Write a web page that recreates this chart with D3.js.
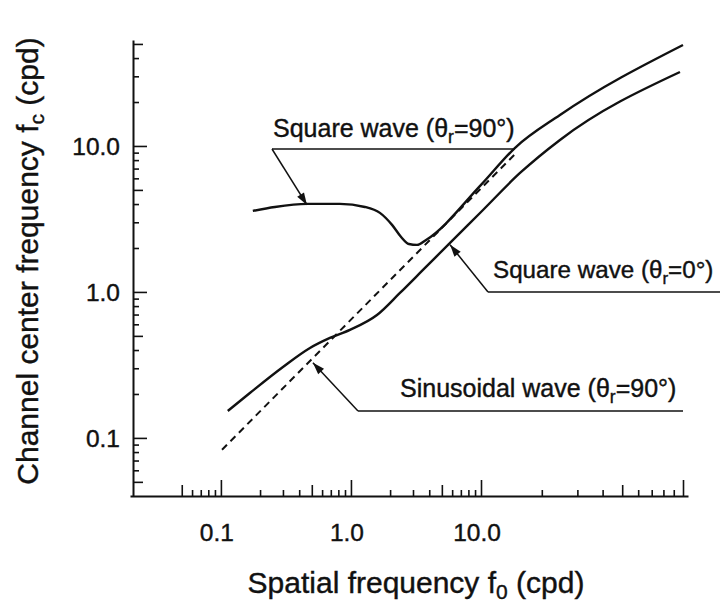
<!DOCTYPE html>
<html><head><meta charset="utf-8">
<script src="https://cdn.jsdelivr.net/npm/d3@7"></script>
<style>body{margin:0;background:#fff}</style>
</head><body>
<svg id="c" width="720" height="608"></svg>
<script>
// ---------- data ----------
const xTickLabelValues = [0.1, 1, 10];
const xTickLabels = ["0.1", "1.0", "10.0"];
const yTickLabelValues = [0.1, 1, 10];
const yTickLabels = ["0.1", "1.0", "10.0"];
const xTicks = [0.05,0.06,0.07,0.08,0.09,0.1,0.2,0.3,0.4,0.5,0.6,0.7,0.8,0.9,1,2,3,4,5,6,7,8,9,10,20,30,40,50,60,70,80,90,100];
const yTicks = [0.05,0.06,0.07,0.08,0.09,0.1,0.2,0.3,0.4,0.5,0.6,0.7,0.8,0.9,1,2,3,4,5,6,7,8,9,10,20,30,40,50];
// [f0, fc]
const sinusoid90 = [[0.102,0.083],[15.1,9.1]];
const square90 = [[0.176,3.59],[0.26,3.82],[0.459,4.01],[0.822,4.01],[1.28,3.82],[1.67,3.48],[2.07,2.88],[2.43,2.38],[2.79,2.13],[3.22,2.10],[3.78,2.27],[10,5.41],[14.7,9.68],[24.6,16.3],[100,49.2]];
const square0 = [[0.113,0.153],[0.167,0.203],[0.30,0.306],[0.484,0.413],[0.689,0.484],[0.982,0.55],[1.585,0.695],[2.38,0.984],[3.58,1.415],[5.78,2.17],[10,3.53],[15.6,6.53],[24.6,11.0],[96.6,32.1]];
// x axis breakpoints as printed (the last decade is drawn wider)
const xDomain = [0.02, 10, 100, 106];
const yDomain = [0.04, 53.2];

// ---------- layout ----------
const svg = d3.select("#c");
const x = d3.scaleLog().domain(xDomain).range([130, 481, 683, 688]);
const y = d3.scaleLog().domain(yDomain).range([496, 40]);
const font = "'Liberation Sans', Arial, Helvetica, sans-serif";
const ink = "#111";

function tickLen(v, L, M, S) {
  const lg = Math.log10(v);
  if (Math.abs(lg - Math.round(lg)) < 1e-6) return L;
  const lead = Math.round(v / Math.pow(10, Math.floor(lg + 1e-9)));
  return lead === 5 ? M : S;
}

// x axis
const xa = svg.append("g").attr("transform", "translate(0,496)")
  .call(d3.axisBottom(x).tickValues(xTicks).tickFormat("").tickSizeOuter(0));
xa.select(".domain").attr("stroke", ink).attr("stroke-width", 2);
xa.selectAll(".tick line").attr("stroke", ink).attr("stroke-width", 1.6)
  .attr("y2", d => -tickLen(d, 16, 11, 6));
// y axis
const ya = svg.append("g").attr("transform", "translate(133,0)")
  .call(d3.axisLeft(y).tickValues(yTicks).tickFormat("").tickSizeOuter(0));
ya.select(".domain").attr("stroke", ink).attr("stroke-width", 2);
ya.selectAll(".tick line").attr("stroke", ink).attr("stroke-width", 1.6)
  .attr("x2", d => tickLen(d, 14, 10, 6));

function styleText(s, size) {
  return s.attr("font-family", font).attr("font-size", size).attr("fill", ink)
    .attr("stroke", ink).attr("stroke-width", 0.4);
}
// tick labels
styleText(svg.append("g").selectAll("text").data(xTickLabelValues).join("text")
  .attr("x", d => x(d) - 4).attr("y", 541).attr("text-anchor", "middle"), 24.5)
  .text((d, i) => xTickLabels[i]);
styleText(svg.append("g").selectAll("text").data(yTickLabelValues).join("text")
  .attr("x", 120).attr("y", d => y(d) + 9).attr("text-anchor", "end"), 24.5)
  .text((d, i) => yTickLabels[i]);

// axis titles
const xt = styleText(svg.append("text").attr("x", 416).attr("y", 593).attr("text-anchor", "middle"), 30);
xt.append("tspan").text("Spatial frequency f");
xt.append("tspan").attr("font-size", 21).attr("dy", 6).text("0");
xt.append("tspan").attr("dy", -6).text(" (cpd)");
const yt = styleText(svg.append("text").attr("transform", "translate(38,261) rotate(-90)")
  .attr("text-anchor", "middle"), 30);
yt.append("tspan").text("Channel center frequency f");
yt.append("tspan").attr("font-size", 21).attr("dy", 6).text("c");
yt.append("tspan").attr("dy", -6).text(" (cpd)");

// curves
const line = d3.line().x(d => x(d[0])).y(d => y(d[1])).curve(d3.curveMonotoneX);
svg.append("path").datum(sinusoid90).attr("d", line).attr("fill", "none")
  .attr("stroke", ink).attr("stroke-width", 2).attr("stroke-dasharray", "7,5");
svg.append("path").datum(square90).attr("d", line).attr("fill", "none")
  .attr("stroke", ink).attr("stroke-width", 2.4);
svg.append("path").datum(square0).attr("d", line).attr("fill", "none")
  .attr("stroke", ink).attr("stroke-width", 2.4);

// annotations
function arrow(x1, y1, x2, y2) {
  svg.append("line").attr("x1", x1).attr("y1", y1).attr("x2", x2).attr("y2", y2)
    .attr("stroke", ink).attr("stroke-width", 1.5);
  const a = Math.atan2(y2 - y1, x2 - x1), L = 12, w = 4;
  const bx = x2 - L * Math.cos(a), by = y2 - L * Math.sin(a);
  svg.append("polygon").attr("fill", ink)
    .attr("points", [[x2, y2], [bx + w * Math.sin(a), by - w * Math.cos(a)], [bx - w * Math.sin(a), by + w * Math.cos(a)]].map(p => p.join(",")).join(" "));
}
function label(tx, ty, size, pre, sub, post) {
  const t = styleText(svg.append("text").attr("x", tx).attr("y", ty), size);
  t.append("tspan").text(pre);
  t.append("tspan").attr("font-size", size * 0.7).attr("dy", 6).text(sub);
  t.append("tspan").attr("dy", -6).text(post);
}
const annotations = [
  {text: ["Square wave (θ", "r", "=90°)"], size: 25, tx: 273, ty: 137, ux1: 272, ux2: 515, uy: 149, tip: [0.459, 4.01], tipDy: 1},
  {text: ["Square wave (θ", "r", "=0°)"], size: 24.2, tx: 493, ty: 278, ux1: 488, ux2: 720, uy: 292, tip: [5.78, 2.17], tipDy: 2},
  {text: ["Sinusoidal wave (θ", "r", "=90°)"], size: 25, tx: 400, ty: 397, ux1: 358, ux2: 683, uy: 411, tip: [0.51, 0.327], tipDy: 0}
];
annotations.forEach(a => {
  label(a.tx, a.ty, a.size, a.text[0], a.text[1], a.text[2]);
  svg.append("line").attr("x1", a.ux1).attr("x2", a.ux2).attr("y1", a.uy).attr("y2", a.uy)
    .attr("stroke", ink).attr("stroke-width", 1.6);
  arrow(a.ux1, a.uy, x(a.tip[0]), y(a.tip[1]) + a.tipDy);
});
</script>
</body></html>
